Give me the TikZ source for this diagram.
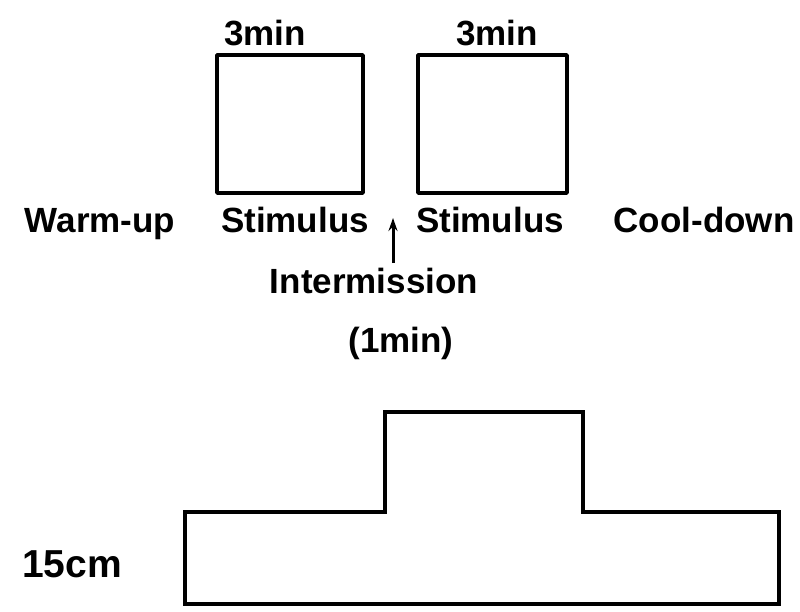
\documentclass[tikz,border=0pt]{standalone}
\usepackage{fontspec}
\setmainfont{Liberation Sans}
\usetikzlibrary{arrows.meta}
\begin{document}
\begin{tikzpicture}[x=1pt,y=-1pt,
  lbl/.style={anchor=base,inner sep=0pt,font=\bfseries\fontsize{35}{40}\selectfont},
  unitlbl/.style={anchor=base,inner sep=0pt,font=\bfseries\fontsize{39}{44}\selectfont},
  stimbox/.style={draw,line width=3.6pt,line join=round},
  profile/.style={draw,line width=4pt,line join=miter}]
\useasboundingbox (0,0) rectangle (800,611);

% stimulus periods
\draw[stimbox] (217,55) rectangle (363,193);
\draw[stimbox] (418,55) rectangle (567,193);
\node[lbl] (t1) at (265,45) {3min};
\node[lbl] (t2) at (497,45) {3min};

% phase labels
\node[lbl] (warm) at (100,232) {Warm-up};
\node[lbl] (stim1) at (295,232) {Stimulus};
\node[lbl] (stim2) at (490,232) {Stimulus};
\node[lbl] (cool) at (704,232) {Cool-down};

% intermission
\node[lbl] (inter) at (374,293) {Intermission};
\node[lbl] (imin) at (401,352) {(1min)};
\coordinate (atail) at (393,263);
\coordinate (ahead) at (393,218);
\draw[line width=3pt,-{Stealth[length=13pt,width=9pt]}] (atail) -- (ahead);

% height profile
\draw[profile] (185,512) -- (385,512) -- (385,412) -- (583,412) -- (583,512)
  -- (779,512) -- (779,604) -- (185,604) -- cycle;
\node[unitlbl] (h) at (72,577) {15cm};
\end{tikzpicture}
\end{document}
